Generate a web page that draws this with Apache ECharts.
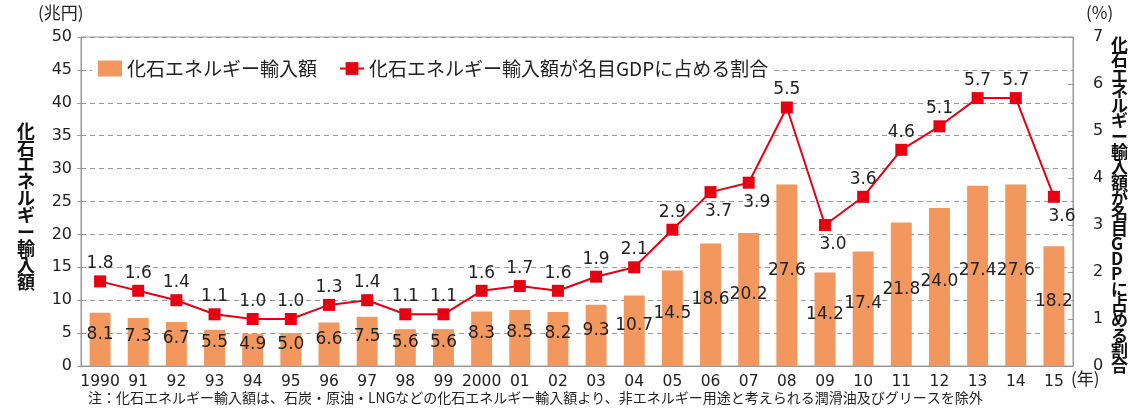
<!DOCTYPE html>
<html>
<head>
<meta charset="utf-8">
<script src="https://cdn.jsdelivr.net/npm/echarts@6/dist/echarts.min.js"></script>
<style>
  html, body { margin: 0; padding: 0; background: #fff; }
  #chart { width: 1131px; height: 409px; }
</style>
</head>
<body>
<div id="chart"></div>
<script>
const years = ["1990", "91", "92", "93", "94", "95", "96", "97", "98", "99", "2000",
  "01", "02", "03", "04", "05", "06", "07", "08", "09", "10", "11", "12", "13", "14", "15"];
// 化石エネルギー輸入額（兆円）
const importValues = [8.1, 7.3, 6.7, 5.5, 4.9, 5.0, 6.6, 7.5, 5.6, 5.6, 8.3, 8.5, 8.2,
  9.3, 10.7, 14.5, 18.6, 20.2, 27.6, 14.2, 17.4, 21.8, 24.0, 27.4, 27.6, 18.2];
// 名目GDPに占める割合（%）
const gdpShare = [1.8, 1.6, 1.4, 1.1, 1.0, 1.0, 1.3, 1.4, 1.1, 1.1, 1.6, 1.7, 1.6,
  1.9, 2.1, 2.9, 3.7, 3.9, 5.5, 3.0, 3.6, 4.6, 5.1, 5.7, 5.7, 3.6];

const barName = "化石エネルギー輸入額";
const lineName = "化石エネルギー輸入額が名目GDPに占める割合";
const jpFont = "'Noto Sans CJK JP', 'Noto Sans', sans-serif";
const numFont = "'DejaVu Sans', 'Noto Sans CJK JP', sans-serif";
const textColor = "#222";

// years whose share label sits under the marker
const labelBelow = ["06", "07", "09", "15"];

const chart = echarts.init(document.getElementById("chart"));

const vertical = (s) => s.split("").join("\n");

const option = {
  animation: false,
  textStyle: { fontFamily: jpFont },
  grid: {
    left: 81, right: 58, top: 37, bottom: 43,
    show: true, borderColor: "#999", borderWidth: 1,
  },
  legend: {
    left: 92, top: 57,
    itemGap: 22,
    backgroundColor: "#fff",
    padding: [2, 6],
    textStyle: { fontSize: 19, color: textColor, fontFamily: jpFont },
    data: [
      { name: barName, icon: "rect", itemStyle: { color: "#F2985E" } },
      { name: lineName },
    ],
    itemWidth: 24, itemHeight: 16,
  },
  xAxis: {
    type: "category",
    data: years,
    axisLine: { lineStyle: { color: "#999" } },
    axisTick: { inside: true, length: 6, lineStyle: { color: "#999" } },
    axisLabel: { fontSize: 15.5, color: textColor, margin: 8, interval: 0, fontFamily: numFont },
  },
  yAxis: [
    {
      type: "value",
      min: 0, max: 50, interval: 5,
      axisLine: { show: true, lineStyle: { color: "#999" } },
      axisTick: { show: true, length: 4, lineStyle: { color: "#999" } },
      axisLabel: { fontSize: 16, color: textColor, margin: 9, fontFamily: numFont },
      splitLine: { lineStyle: { color: "#999", type: [5, 4] } },
    },
    {
      type: "value",
      min: 0, max: 7, interval: 1,
      axisLine: { show: true, lineStyle: { color: "#999" } },
      axisTick: { show: true, inside: true, length: 5, lineStyle: { color: "#999" } },
      axisLabel: { fontSize: 16, color: textColor, margin: 20, fontFamily: numFont },
      splitLine: { show: false },
    },
  ],
  series: [
    {
      name: barName,
      type: "bar",
      data: importValues,
      barWidth: "55%",
      itemStyle: { color: "#F2985E" },
      label: {
        show: true,
        position: "inside",
        offset: [0, -5],
        fontSize: 17,
        color: textColor,
        fontFamily: numFont,
        formatter: (p) => p.value.toFixed(1),
      },
      z: 2,
    },
    {
      name: lineName,
      type: "line",
      yAxisIndex: 1,
      data: gdpShare.map((v, i) => ({
        value: v,
        label: labelBelow.includes(years[i])
          ? { position: "bottom", distance: 5, offset: [8, 0] }
          : undefined,
      })),
      symbol: "rect",
      symbolSize: 12,
      lineStyle: { color: "#E60012", width: 2 },
      itemStyle: { color: "#E60012" },
      label: {
        show: true,
        position: "top",
        distance: 3,
        fontSize: 17,
        color: textColor,
        fontFamily: numFont,
        formatter: (p) => p.value.toFixed(1),
      },
      z: 5,
    },
  ],
  graphic: [
    { type: "text", left: 38, top: 4, style: { text: "(兆円)", fontSize: 17, fill: textColor, fontFamily: jpFont } },
    { type: "text", left: 1086, top: 4, style: { text: "(%)", fontSize: 17, fill: textColor, fontFamily: jpFont } },
    { type: "text", left: 1071, top: 370, style: { text: "(年)", fontSize: 17, fill: textColor, fontFamily: jpFont } },
    {
      type: "text", left: 17, top: 122,
      style: { text: vertical("化石エネルギー輸入額"), fontSize: 18, fontWeight: "bold", lineHeight: 16.8, fill: "#111", fontFamily: jpFont, align: "center" },
    },
    {
      type: "text", left: 1111, top: 36,
      style: { text: vertical("化石エネルギー輸入額が名目GDPに占める割合"), fontSize: 17, fontWeight: "bold", lineHeight: 15.3, fill: "#111", fontFamily: jpFont, align: "center" },
    },
    {
      type: "text", left: 88, top: 391,
      style: { text: "注：化石エネルギー輸入額は、石炭・原油・LNGなどの化石エネルギー輸入額より、非エネルギー用途と考えられる潤滑油及びグリースを除外", fontSize: 14, fill: textColor, fontFamily: jpFont },
    },
  ],
};

chart.setOption(option);
</script>
</body>
</html>
